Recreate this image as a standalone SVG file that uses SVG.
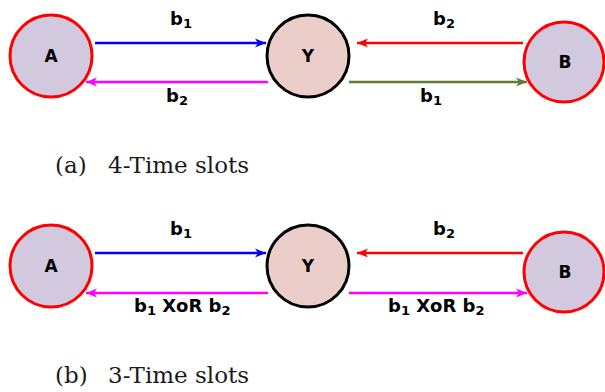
<svg xmlns="http://www.w3.org/2000/svg" width="605" height="392" viewBox="0 0 605 392">
<style>
.end{fill:#d3c9de;stroke:#ff0000;stroke-width:3}
.relay{fill:#ebcdc9;stroke:#000;stroke-width:3}
.nl{font-family:"DejaVu Sans",Verdana,sans-serif;font-weight:bold;font-size:17px;text-anchor:middle;fill:#000}
.el{font-family:"DejaVu Sans",Verdana,sans-serif;font-weight:bold;font-size:18px;fill:#000}
.sub{font-size:13px}
.cap{font-family:"DejaVu Serif","Liberation Serif",serif;font-size:23px;fill:#1a1a1a}
.ln{stroke-width:2.5;fill:none}
</style>
<defs>
<marker id="ab" markerUnits="userSpaceOnUse" markerWidth="12" markerHeight="10" refX="11" refY="5" orient="auto"><path d="M0,0.5 L11,5 L0,9.5 L3,5 z" fill="#0000ff"/></marker>
<marker id="am" markerUnits="userSpaceOnUse" markerWidth="12" markerHeight="10" refX="11" refY="5" orient="auto"><path d="M0,0.5 L11,5 L0,9.5 L3,5 z" fill="#ff00ff"/></marker>
<marker id="ar" markerUnits="userSpaceOnUse" markerWidth="12" markerHeight="10" refX="11" refY="5" orient="auto"><path d="M0,0.5 L11,5 L0,9.5 L3,5 z" fill="#ff0000"/></marker>
<marker id="ag" markerUnits="userSpaceOnUse" markerWidth="12" markerHeight="10" refX="11" refY="5" orient="auto"><path d="M0,0.5 L11,5 L0,9.5 L3,5 z" fill="#617c34"/></marker>
</defs>

<g id="connectors">
<line class="ln" x1="95" y1="43" x2="266" y2="43" stroke="#0000ff" marker-end="url(#ab)"/>
<line class="ln" x1="268" y1="82" x2="86" y2="82" stroke="#ff00ff" marker-end="url(#am)"/>
<line class="ln" x1="523" y1="43" x2="357" y2="43" stroke="#ff0000" marker-end="url(#ar)"/>
<line class="ln" x1="349" y1="82" x2="527" y2="82" stroke="#617c34" marker-end="url(#ag)"/>
<line class="ln" x1="95" y1="253" x2="266" y2="253" stroke="#0000ff" marker-end="url(#ab)"/>
<line class="ln" x1="268" y1="293" x2="86" y2="293" stroke="#ff00ff" marker-end="url(#am)"/>
<line class="ln" x1="523" y1="253" x2="357" y2="253" stroke="#ff0000" marker-end="url(#ar)"/>
<line class="ln" x1="349" y1="293" x2="527" y2="293" stroke="#ff00ff" marker-end="url(#am)"/>
<text class="el" x="170" y="25">b<tspan class="sub" dy="3">1</tspan></text>
<text class="el" x="166" y="102">b<tspan class="sub" dy="3">2</tspan></text>
<text class="el" x="433" y="25">b<tspan class="sub" dy="3">2</tspan></text>
<text class="el" x="420" y="102">b<tspan class="sub" dy="3">1</tspan></text>
<text class="el" x="170" y="235">b<tspan class="sub" dy="3">1</tspan></text>
<text class="el" x="134" y="312">b<tspan class="sub" dy="3">1</tspan><tspan dy="-3"> XoR b</tspan><tspan class="sub" dy="3">2</tspan></text>
<text class="el" x="433" y="235">b<tspan class="sub" dy="3">2</tspan></text>
<text class="el" x="388" y="312">b<tspan class="sub" dy="3">1</tspan><tspan dy="-3"> XoR b</tspan><tspan class="sub" dy="3">2</tspan></text>
</g>

<g id="nodeA1"><circle class="end" cx="51" cy="56" r="41"/><text class="nl" x="51" y="62">A</text></g>
<g id="nodeY1"><circle class="relay" cx="308" cy="56" r="41"/><text class="nl" x="308" y="62">Y</text></g>
<g id="nodeB1"><circle class="end" cx="564" cy="62" r="40"/><text class="nl" x="565" y="68">B</text></g>
<g id="nodeA2"><circle class="end" cx="51" cy="266" r="41"/><text class="nl" x="51" y="272">A</text></g>
<g id="nodeY2"><circle class="relay" cx="308" cy="266" r="41"/><text class="nl" x="308" y="272">Y</text></g>
<g id="nodeB2"><circle class="end" cx="564" cy="272" r="40"/><text class="nl" x="565" y="278">B</text></g>

<g id="captions">
<text class="cap" x="55" y="173">(a)</text><text class="cap" x="108" y="173">4-Time slots</text>
<text class="cap" x="55" y="383">(b)</text><text class="cap" x="108" y="383">3-Time slots</text>
</g>
</svg>
